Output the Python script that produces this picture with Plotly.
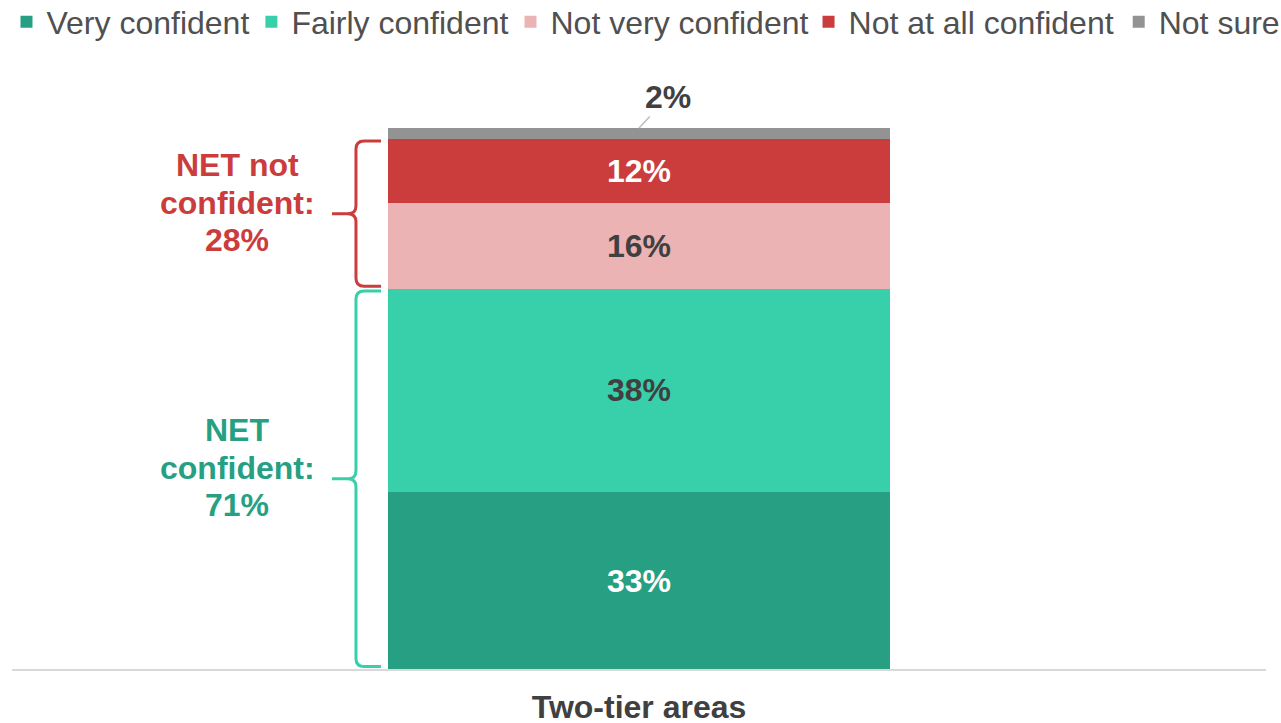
import plotly.graph_objects as go

# ---- data ----
categories = ["Two-tier areas"]
series_names = ["Very confident", "Fairly confident", "Not very confident",
                "Not at all confident", "Not sure"]
very_confident = [33]
fairly_confident = [38]
not_very_confident = [16]
not_at_all_confident = [12]
not_sure = [2]
net_confident = 71
net_not_confident = 28

series_values = [very_confident, fairly_confident, not_very_confident,
                 not_at_all_confident, not_sure]

# ---- styles ----
FONT = "Liberation Sans, Arial, sans-serif"
FS = 32
colors = ["#279F82", "#38CFAB", "#EBB3B3", "#CB3C3C", "#939393"]
label_colors = ["#FFFFFF", "#404040", "#404040", "#FFFFFF", "#404040"]
show_inside = [True, True, True, True, False]
legend_group = ["legend", "legend", "legend", "legend2", "legend2"]
GREEN_TXT = "#279F82"
RED = "#CB3C3C"
GREEN_BR = "#38CFAB"
DARK = "#404040"
LEGEND_TXT = "#505050"

fig = go.Figure()
for name, vals, col, lc, show, lg in zip(series_names, series_values, colors,
                                         label_colors, show_inside,
                                         legend_group):
    fig.add_trace(go.Bar(
        name=name, x=categories, y=vals, marker_color=col,
        marker_line_width=0, width=0.4, legend=lg,
        text=[f"{v}%" for v in vals] if show else None,
        textposition="inside" if show else "none",
        insidetextanchor="middle",
        textfont=dict(size=FS, color=lc, family=FONT, weight="bold"),
        hoverinfo="skip",
    ))

# cumulative levels (from data)
cum = []
s = 0
for vals in series_values:
    s += vals[0]
    cum.append(s)
total = cum[-1]

# "Not sure" label with leader line
fig.add_annotation(
    x=categories[0], y=total, xref="x", yref="y",
    text=f"<b>{not_sure[0]}%</b>", showarrow=True, arrowhead=0,
    arrowcolor="#BFBFBF", arrowwidth=1.6, ax=29, ay=-31,
    font=dict(size=FS, color=DARK, family=FONT),
)

# brackets (paper x positions, data y)
XE, XV, XT, RX, RY, PAD = 0.2943, 0.2743, 0.2552, 0.0065, 1.5, 0.45


def brace(lo, hi, color):
    top, bot = hi - PAD, lo + PAD
    mid = (lo + hi) / 2
    p = (f"M{XE},{top} L{XV+RX},{top} Q{XV},{top} {XV},{top-RY} "
         f"L{XV},{mid+RY} Q{XV},{mid} {XV-RX},{mid} L{XT},{mid} "
         f"M{XT},{mid} L{XV-RX},{mid} Q{XV},{mid} {XV},{mid-RY} "
         f"L{XV},{bot+RY} Q{XV},{bot} {XV+RX},{bot} L{XE},{bot}")
    fig.add_shape(type="path", path=p, xref="paper", yref="y",
                  line=dict(color=color, width=3))


brace(0, cum[1], GREEN_BR)
brace(cum[1], cum[3], RED)

LBL_X = 0.1795
LINE_H = 37.5
MID_SHIFT = 11


def net_label(lines, yval, color):
    n = len(lines)
    for i, ln in enumerate(lines):
        fig.add_annotation(x=LBL_X, y=yval, xref="paper", yref="y",
                           xanchor="center", yanchor="middle",
                           text=f"<b>{ln}</b>", showarrow=False,
                           yshift=MID_SHIFT + ((n - 1) / 2 - i) * LINE_H,
                           font=dict(size=FS, color=color, family=FONT))


net_label(["NET not", "confident:", f"{net_not_confident}%"],
          (cum[1] + cum[3]) / 2, RED)
net_label(["NET", "confident:", f"{net_confident}%"], cum[1] / 2, GREEN_TXT)

legend_style = dict(orientation="h", xanchor="left", y=1.2468, yanchor="top",
                    traceorder="normal",
                    font=dict(size=FS, color=LEGEND_TXT, family=FONT),
                    itemclick=False, itemdoubleclick=False)

fig.update_layout(
    width=1281, height=723,
    barmode="stack",
    paper_bgcolor="white", plot_bgcolor="white",
    margin=dict(l=12, r=15, t=128, b=54, autoexpand=False),
    font=dict(family=FONT, color=DARK),
    showlegend=True,
    legend=dict(x=-0.002, indentation=-3, **legend_style),
    legend2=dict(x=0.6352, indentation=0, **legend_style),
)
fig.update_xaxes(showline=True, linecolor="#D9D9D9", linewidth=2,
                 ticks="", ticklabelstandoff=9,
                 tickfont=dict(size=FS, color=DARK, family=FONT, weight="bold"),
                 range=[-0.5, 0.5], fixedrange=True)
fig.update_yaxes(range=[0, total], showgrid=False, zeroline=False,
                 showticklabels=False, fixedrange=True)

# remove the default page margin so the 1281x723 figure fills the window
fig.write_html(
    "out.html",
    config={"displayModeBar": False},
    post_script="document.body.style.margin='0';"
                "document.documentElement.style.overflow='hidden';",
)
